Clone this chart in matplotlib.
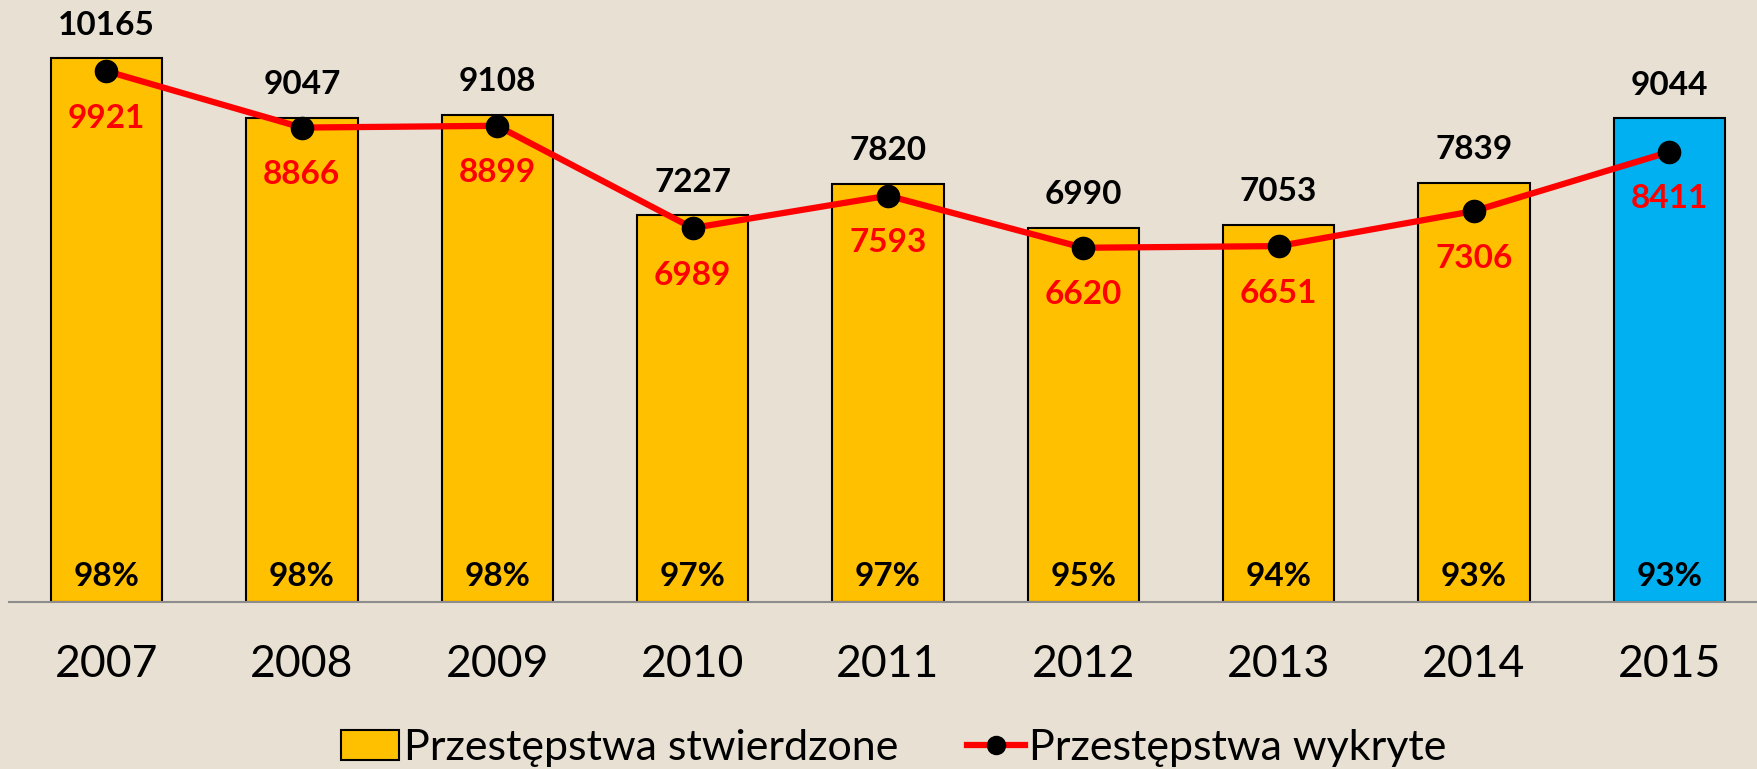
import matplotlib
matplotlib.use("Agg")
import matplotlib.pyplot as plt
from matplotlib.patches import Patch
from matplotlib.lines import Line2D

plt.rcParams['font.family'] = ['Lato', 'DejaVu Sans']

# data
years = ['2007', '2008', '2009', '2010', '2011', '2012', '2013', '2014', '2015']
stwierdzone = [10165, 9047, 9108, 7227, 7820, 6990, 7053, 7839, 9044]
wykryte = [9921, 8866, 8899, 6989, 7593, 6620, 6651, 7306, 8411]
wykrywalnosc = ['98%', '98%', '98%', '97%', '97%', '95%', '94%', '93%', '93%']

bg = '#E7E0D3'
fig = plt.figure(figsize=(17.58, 7.69), dpi=100, facecolor=bg)
ax = fig.add_axes([8.8 / 1758, 167 / 769, (1767 - 8.8) / 1758, 602 / 769])
ax.set_facecolor(bg)

x = list(range(len(years)))
colors = ['#FFC000'] * (len(years) - 1) + ['#00B0F0']
ax.bar(x, stwierdzone, width=0.57, color=colors, edgecolor='black', linewidth=1.5, zorder=2)
ax.plot(x, wykryte, color='#FF0000', lw=4.5, marker='o', markersize=16,
        markerfacecolor='black', markeredgecolor='black', zorder=3)

for i in x:
    ax.annotate(str(stwierdzone[i]), (i, stwierdzone[i]), xytext=(0, 33),
                textcoords='offset pixels', ha='center', va='center',
                fontsize=24, fontweight='bold', color='black')
    ax.annotate(str(wykryte[i]), (i, wykryte[i]), xytext=(0, -47),
                textcoords='offset pixels', ha='center', va='center',
                fontsize=24, fontweight='bold', color='#FF0000', zorder=4)
    ax.annotate(wykrywalnosc[i], (i, 0), xytext=(0, 26),
                textcoords='offset pixels', ha='center', va='center',
                fontsize=24, fontweight='bold', color='black', zorder=4)

ax.set_xlim(-0.5, 8.5)
ax.set_ylim(0, 11250)
ax.set_xticks(x)
ax.set_xticklabels(years, fontsize=32)
ax.tick_params(axis='x', length=0, pad=30)
ax.set_yticks([])
for s in ['top', 'right', 'left']:
    ax.spines[s].set_visible(False)
ax.spines['bottom'].set_color('#8C8C8C')
ax.spines['bottom'].set_linewidth(1.5)

handles = [Patch(facecolor='#FFC000', edgecolor='black', linewidth=1.5),
           Line2D([], [], color='#FF0000', lw=4.5, marker='o', markersize=13,
                  markerfacecolor='black', markeredgecolor='black')]
fig.legend(handles, ['Przestępstwa stwierdzone', 'Przestępstwa wykryte'],
           loc='center', bbox_to_anchor=(0.5085, 0.027), ncol=2, frameon=False,
           fontsize=31, handlelength=1.35, handleheight=0.7, handletextpad=0.1,
           columnspacing=1.6, borderaxespad=0)

fig.savefig('out.png', dpi=100, facecolor=bg)
